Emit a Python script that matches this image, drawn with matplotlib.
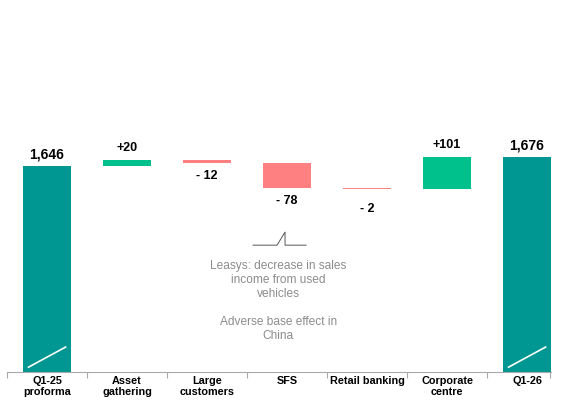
import numpy as np
import matplotlib.pyplot as plt
import matplotlib.transforms as mtransforms

plt.rcParams['font.family'] = ['Liberation Sans', 'DejaVu Sans']

# Data
categories = ['Q1-25\nproforma', 'Asset\ngathering', 'Large\ncustomers', 'SFS',
              'Retail banking', 'Corporate\ncentre', 'Q1-26']
start_total = 1646
deltas = [20, -12, -78, -2, 101]
end_total = 1676
note_text = 'Leasys: decrease in sales\nincome from used\nvehicles'
note_text2 = 'Adverse base effect in\nChina'

teal = '#009691'
green = '#00C08C'
red = '#FF8080'
base = 992

fig = plt.figure(figsize=(5.62, 4.01), dpi=100)
ax = fig.add_axes([0.0125, 0.0723, 0.968, 0.9277])
w = 0.61

# Totals
totals = {0: start_total, 6: end_total}
for i, v in totals.items():
    ax.bar(i, v - base, bottom=base, width=w, color=teal)
    ax.annotate(f'{v:,}', (i, v), xytext=(0, 3), textcoords='offset points',
                ha='center', va='bottom', fontsize=10, fontweight='bold')

# Deltas
running = start_total
for k, d in enumerate(deltas):
    i = k + 1
    lo = running if d > 0 else running + d
    ax.bar(i, abs(d), bottom=lo, width=w, color=green if d > 0 else red)
    if d > 0:
        ax.annotate(f'+{d}', (i, running + d), xytext=(0, 4), textcoords='offset points',
                    ha='center', va='bottom', fontsize=9, fontweight='bold')
    else:
        off = -10 if abs(d) < 5 else -5
        ax.annotate(f'- {abs(d)}', (i, running + d), xytext=(0, off), textcoords='offset points',
                    ha='center', va='top', fontsize=9, fontweight='bold')
    running += d

# white slash in total bars
trans = mtransforms.blended_transform_factory(ax.transData, ax.transAxes)
for i in totals:
    ax.plot([i - w / 2 + 0.12 * w, i + w / 2 - 0.12 * w], [0.013, 0.067],
            color='white', lw=1.2, transform=trans)

# bracket + note
ax.plot([2.575, 2.875, 2.975, 2.975, 3.2375], [0.341, 0.341, 0.376, 0.341, 0.341],
        color='#555555', lw=0.7, transform=trans)
ax.text(2.89, 0.247, note_text, transform=trans, ha='center', va='center',
        fontsize=8.6, color='#8c8c8c', linespacing=1.2)
ax.text(2.89, 0.116, note_text2, transform=trans, ha='center', va='center',
        fontsize=8.6, color='#8c8c8c', linespacing=1.2)

ax.set_xlim(-0.5, 6.3)
ax.set_ylim(base, 2173)
for s in ['top', 'right', 'left']:
    ax.spines[s].set_visible(False)
ax.spines['bottom'].set_color('#aaaaaa')
ax.spines['bottom'].set_linewidth(0.8)
ax.set_yticks([])
ax.set_xticks(np.arange(len(categories)))
ax.set_xticklabels(categories, fontsize=7.8, fontweight='bold', linespacing=1.15)
ax.tick_params(axis='x', which='major', length=0, pad=3)
ax.set_xticks(list(np.arange(-0.5, 6.5, 1)) + [6.29], minor=True)
ax.tick_params(axis='x', which='minor', length=4, color='#aaaaaa', width=0.8)

fig.savefig('out.png', dpi=100)
